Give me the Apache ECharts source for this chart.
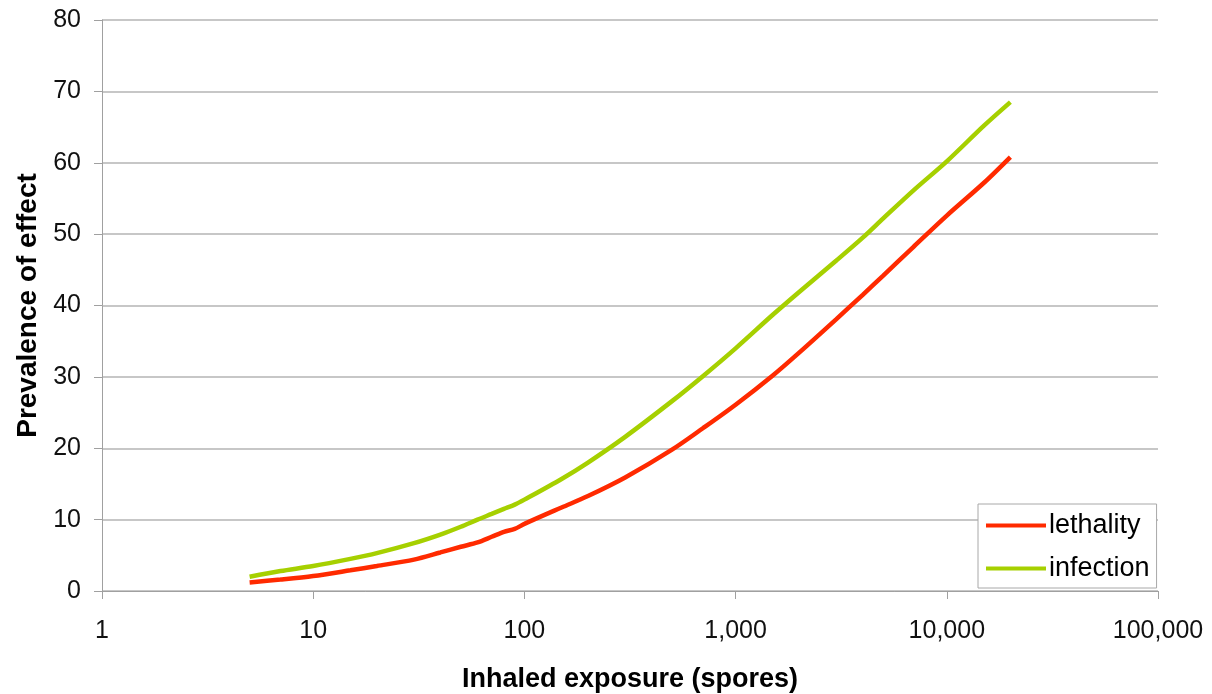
<!DOCTYPE html>
<html>
<head>
<meta charset="utf-8">
<script src="https://cdn.jsdelivr.net/npm/echarts@6/dist/echarts.min.js"></script>
<style>
html,body{margin:0;padding:0;background:#fff;overflow:hidden;}
#c{width:1212px;height:694px;}
</style>
</head>
<body>
<div id="c"></div>
<script>
// Inhaled exposure (spores)
const exposure = [5, 7, 10, 15, 20, 30, 40, 50, 60, 70, 80, 90, 100, 150, 200, 300, 500, 700, 1000, 1500, 2000, 3000, 4000, 5000, 7000, 10000, 15000, 20000];
// Prevalence of effect (%)
const lethality = [1.2, 1.6, 2.1, 2.9, 3.5, 4.4, 5.4, 6.2, 6.8, 7.6, 8.3, 8.7, 9.4, 11.7, 13.3, 15.9, 19.8, 22.8, 26.1, 30.2, 33.4, 38.1, 41.5, 44.2, 48.3, 52.6, 57.2, 60.8];
const infection = [2.0, 2.8, 3.5, 4.5, 5.3, 6.7, 7.9, 9.0, 10.0, 10.8, 11.5, 12.1, 12.8, 15.7, 18.0, 21.6, 26.6, 30.1, 34.0, 38.7, 41.9, 46.3, 49.5, 52.2, 56.2, 60.2, 65.2, 68.5];
const seriesNames = ['lethality', 'infection'];
const yTicks = [0, 10, 20, 30, 40, 50, 60, 70, 80];
const xTicks = [1, 10, 100, 1000, 10000, 100000];

const chart = echarts.init(document.getElementById('c'), null, {renderer: 'canvas'});
const font = 'Liberation Sans, Arial, sans-serif';
chart.setOption({
  animation: false,
  backgroundColor: '#ffffff',
  grid: {left: 102, right: 54, top: 20, bottom: 103, containLabel: false, outerBoundsMode: 'none'},
  xAxis: {
    type: 'log',
    logBase: 10,
    min: xTicks[0],
    max: xTicks[xTicks.length - 1],
    name: 'Inhaled exposure (spores)',
    nameLocation: 'middle',
    nameGap: 75,
    nameTextStyle: {fontFamily: font, fontSize: 27, fontWeight: 'bold', color: '#000'},
    axisLine: {show: true, lineStyle: {color: '#a0a0a0', width: 1}},
    axisTick: {show: true, length: 8, lineStyle: {color: '#a0a0a0'}},
    minorTick: {show: false},
    splitLine: {show: false},
    axisLabel: {
      fontFamily: font, fontSize: 25, color: '#111', margin: 28,
      formatter: v => Math.round(v).toLocaleString('en-US')
    }
  },
  yAxis: {
    type: 'value',
    min: yTicks[0],
    max: yTicks[yTicks.length - 1],
    interval: 10,
    name: 'Prevalence of effect',
    nameLocation: 'middle',
    nameGap: 60,
    nameTextStyle: {fontFamily: font, fontSize: 28, fontWeight: 'bold', color: '#000'},
    axisLine: {show: true, lineStyle: {color: '#a0a0a0', width: 1}},
    axisTick: {show: true, length: 8, lineStyle: {color: '#a0a0a0'}},
    splitLine: {show: true, lineStyle: {color: '#b4b4b4', width: 1.5}},
    axisLabel: {fontFamily: font, fontSize: 25, color: '#111', margin: 21}
  },
  legend: {
    show: true,
    orient: 'vertical',
    left: 978,
    top: 504,
    padding: [8, 7, 6, 8],
    itemGap: 16,
    itemWidth: 60,
    itemHeight: 14,
    backgroundColor: '#fff',
    borderColor: '#a8a8a8',
    borderWidth: 1,
    borderRadius: 0,
    textStyle: {fontFamily: font, fontSize: 27, color: '#000', padding: [0, 0, 0, -2]},
    data: seriesNames.map(n => ({name: n, icon: 'path://M0,0 L60,0 L60,4 L0,4 Z'}))
  },
  series: [
    {
      name: seriesNames[0], type: 'line', symbol: 'none', smooth: 0.3,
      lineStyle: {color: '#ff2a00', width: 4.5}, itemStyle: {color: '#ff2a00'},
      data: exposure.map((x, i) => [x, lethality[i]])
    },
    {
      name: seriesNames[1], type: 'line', symbol: 'none', smooth: 0.3,
      lineStyle: {color: '#a6d000', width: 4.5}, itemStyle: {color: '#a6d000'},
      data: exposure.map((x, i) => [x, infection[i]])
    }
  ]
});
</script>
</body>
</html>
